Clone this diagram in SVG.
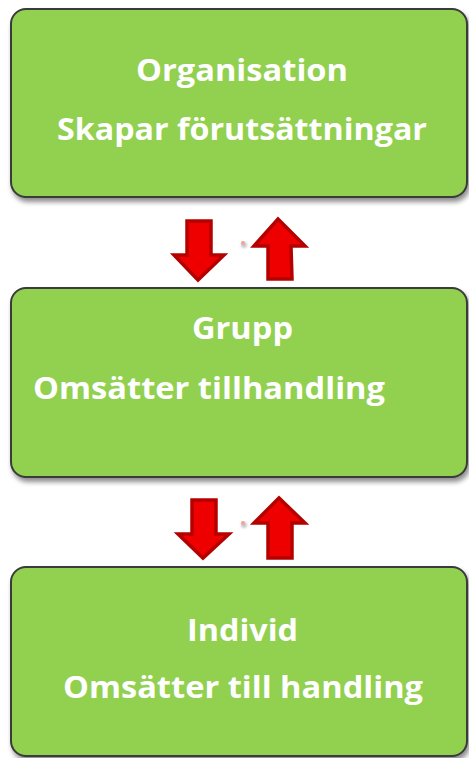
<svg xmlns="http://www.w3.org/2000/svg" width="469" height="758" viewBox="0 0 469 758">
<defs>
<filter id="sh" x="-5%" y="-5%" width="112%" height="115%">
<feGaussianBlur in="SourceAlpha" stdDeviation="2.5"/>
<feOffset dx="2" dy="4" result="b"/>
<feComponentTransfer><feFuncA type="linear" slope="0.45"/></feComponentTransfer>
<feMerge><feMergeNode/><feMergeNode in="SourceGraphic"/></feMerge>
</filter>
<filter id="dotsh" x="-200%" y="-200%" width="500%" height="500%">
<feGaussianBlur stdDeviation="1.2"/>
</filter>
</defs>
<style>
.box{fill:#92d050;stroke:#3a3a3a;stroke-width:2;filter:url(#sh)}
.t{font-family:"Open Sans","Liberation Sans",sans-serif;font-weight:bold;font-size:31px;fill:#ffffff;text-anchor:middle}
.arr{fill:#ee0000;stroke:#b50000;stroke-width:3.5;stroke-linejoin:miter}
</style>
<rect width="469" height="758" fill="#ffffff"/>
<g id="organisation">
<rect class="box" x="11" y="9" width="456" height="188" rx="15"/>
<text class="t" x="242" y="81" textLength="212" lengthAdjust="spacingAndGlyphs">Organisation</text>
<text class="t" x="242" y="140" textLength="370" lengthAdjust="spacingAndGlyphs">Skapar förutsättningar</text>
</g>
<g id="grupp">
<rect class="box" x="11" y="288" width="456" height="189" rx="15"/>
<text class="t" x="242.5" y="339" textLength="101" lengthAdjust="spacingAndGlyphs">Grupp</text>
<text class="t" x="209" y="399" textLength="352" lengthAdjust="spacingAndGlyphs">Omsätter tillhandling</text>
</g>
<g id="individ">
<rect class="box" x="11" y="567" width="456" height="189" rx="15"/>
<text class="t" x="242.5" y="641" textLength="111" lengthAdjust="spacingAndGlyphs">Individ</text>
<text class="t" x="243" y="698" textLength="360" lengthAdjust="spacingAndGlyphs">Omsätter till handling</text>
</g>
<g id="connectors">
<polygon class="arr" points="187,221 211,221 211,255 224,255 198,280 174,255 187,255"/>
<polygon class="arr" points="268,279 292,279 291,246 305,246 278,219 254,246 268,246"/>
<circle cx="244" cy="245" r="3" fill="#c8c8c8" filter="url(#dotsh)"/>
<circle cx="243" cy="243" r="2" fill="#f5a0a0"/>
<polygon class="arr" points="192,500 216,500 216,534 229,534 203,558 178,534 192,534"/>
<polygon class="arr" points="268,558 292,558 292,523 305,523 279,498 254,523 268,523"/>
<circle cx="244" cy="525" r="3" fill="#c8c8c8" filter="url(#dotsh)"/>
<circle cx="243" cy="523" r="2" fill="#f5a0a0"/>
</g>
</svg>
